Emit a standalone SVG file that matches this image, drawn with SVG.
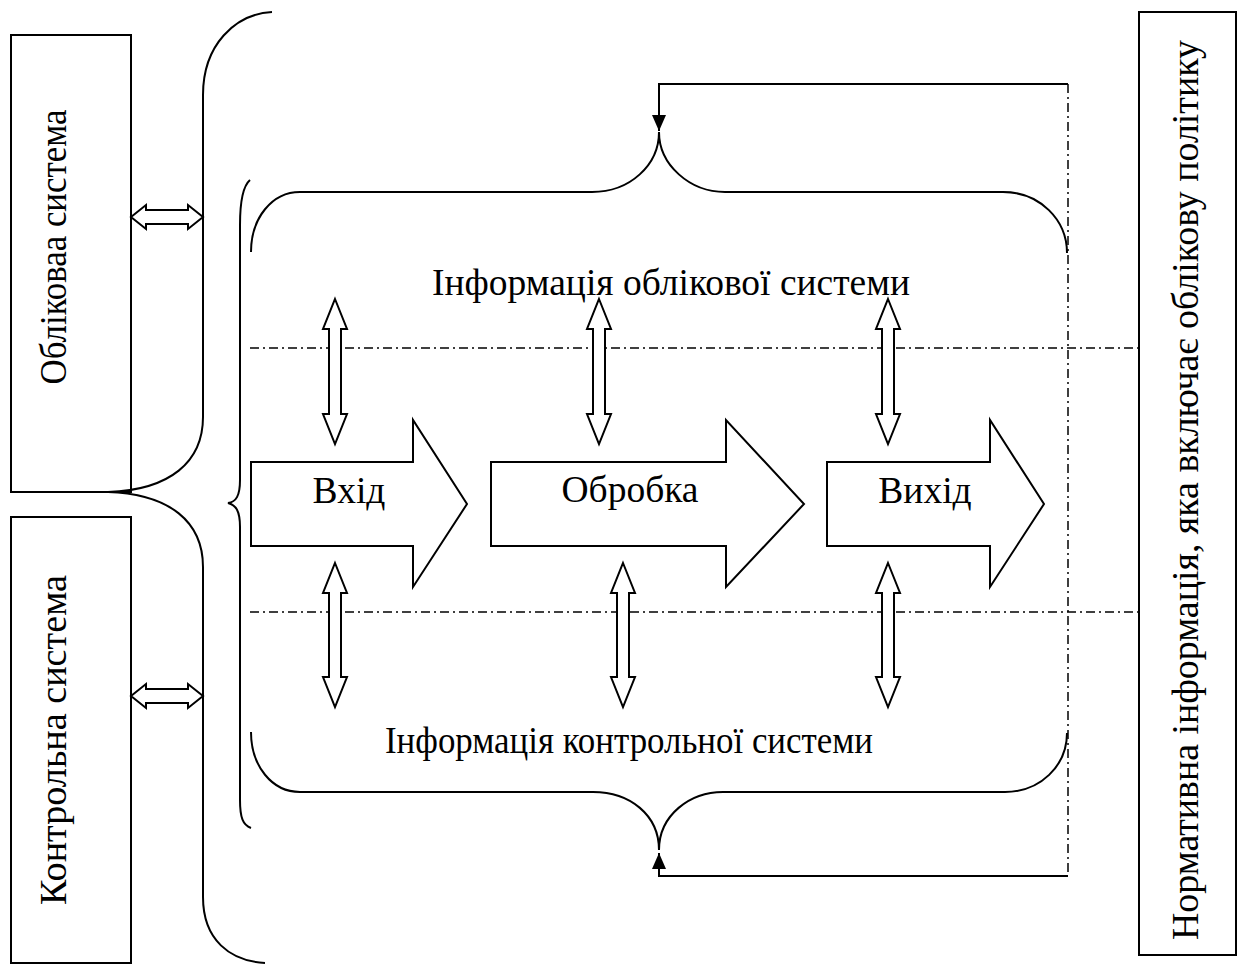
<svg xmlns="http://www.w3.org/2000/svg" width="1240" height="965" viewBox="0 0 1240 965">
<style>
.ln{fill:none;stroke:#000;stroke-width:2}
.box{fill:#fff;stroke:#000;stroke-width:2}
.arr{fill:#fff;stroke:#000;stroke-width:2;stroke-linejoin:miter}
.dd{fill:none;stroke:#000;stroke-width:1.5;stroke-dasharray:9 4 2 4}
.t{font-family:"Liberation Serif","Times New Roman",serif;font-size:37.5px;fill:#000}
</style>
<defs>
<marker id="tri" viewBox="0 0 16 14" refX="16" refY="7" markerWidth="16" markerHeight="14" markerUnits="userSpaceOnUse" orient="auto">
<path d="M0,0 L16,7 L0,14 Z" fill="#000"/>
</marker>
</defs>

<g id="uchet">
<rect class="box" x="11" y="35" width="120" height="457"/>
<text class="t" text-anchor="middle" textLength="275" lengthAdjust="spacingAndGlyphs" transform="translate(66,247) rotate(-90)">Обліковаа система</text>
</g>
<g id="kontrol">
<rect class="box" x="11" y="517" width="120" height="446"/>
<text class="t" text-anchor="middle" textLength="330" lengthAdjust="spacingAndGlyphs" transform="translate(66,740) rotate(-90)">Контрольна система</text>
</g>
<g id="normative">
<rect class="box" x="1139" y="12" width="97" height="943"/>
<text class="t" text-anchor="middle" textLength="900" lengthAdjust="spacingAndGlyphs" transform="translate(1198,490) rotate(-90)">Нормативна інформація, яка включає облікову політику</text>
</g>

<g id="braces">
<path class="ln" d="M272,12 C235,14 203,45 203,95 L203,417 C203,462 170,490 108,492 C170,494 203,522 203,567 L203,897 C203,940 230,961 265,963"/>
<path class="ln" d="M250,180 C243,186 240,200 240,225 L240,480 C240,496 236,502 228,503 C236,505 240,511 240,527 L240,800 C240,818 243,825 251,828"/>
<path class="ln" d="M251,252 C251,218 272,192 300,192 L592,192 C630,192 659,165 659,132 C659,165 690,192 725,192 L1003,192 C1040,192 1067,220 1067,253"/>
<path class="ln" d="M251,732 C251,766 272,792 300,792 L593,792 C630,792 659,815 659,850 C659,815 690,792 723,792 L1005,792 C1040,792 1067,766 1067,733"/>
</g>

<g id="info-uchet">
<text class="t" x="671" y="295" text-anchor="middle" textLength="478" lengthAdjust="spacingAndGlyphs">Інформація облікової системи</text>
</g>
<g id="info-kontrol">
<text class="t" x="629" y="753" text-anchor="middle" textLength="488" lengthAdjust="spacingAndGlyphs">Інформація контрольної системи</text>
</g>

<g id="vhid">
<polygon class="arr" points="251,462 413,462 413,420 467,504 413,587 413,546 251,546"/>
<text class="t" x="349" y="503" text-anchor="middle">Вхід</text>
</g>
<g id="obrobka">
<polygon class="arr" points="491,462 726,462 726,420 804,504 726,587 726,546 491,546"/>
<text class="t" x="630" y="502" text-anchor="middle">Обробка</text>
</g>
<g id="vyhid">
<polygon class="arr" points="827,462 990,462 990,420 1044,504 990,587 990,546 827,546"/>
<text class="t" x="925" y="503" text-anchor="middle">Вихід</text>
</g>

<g id="connectors">
<line class="dd" x1="250" y1="348" x2="1138" y2="348"/>
<line class="dd" x1="250" y1="612" x2="1138" y2="612"/>
<line class="dd" x1="1068" y1="84" x2="1068" y2="876"/>
<polyline class="ln" points="1068,84 659,84 659,131" marker-end="url(#tri)"/>
<polyline class="ln" points="1068,876 659,876 659,853" marker-end="url(#tri)"/>
<polygon class="arr" points="131,217 146,205 146,210 188,210 188,205 203,217 188,229 188,224 146,224 146,229"/>
<polygon class="arr" points="131,696 146,684 146,689 188,689 188,684 203,696 188,708 188,703 146,703 146,708"/>
<polygon class="arr" points="335,299 347,329 341,329 341,414 347,414 335,444 323,414 329,414 329,329 323,329"/>
<polygon class="arr" points="599,299 611,329 605,329 605,414 611,414 599,444 587,414 593,414 593,329 587,329"/>
<polygon class="arr" points="888,299 900,329 894,329 894,414 900,414 888,444 876,414 882,414 882,329 876,329"/>
<polygon class="arr" points="335,563 347,593 341,593 341,677 347,677 335,707 323,677 329,677 329,593 323,593"/>
<polygon class="arr" points="623,563 635,593 629,593 629,677 635,677 623,707 611,677 617,677 617,593 611,593"/>
<polygon class="arr" points="888,563 900,593 894,593 894,677 900,677 888,707 876,677 882,677 882,593 876,593"/>
</g>
</svg>
